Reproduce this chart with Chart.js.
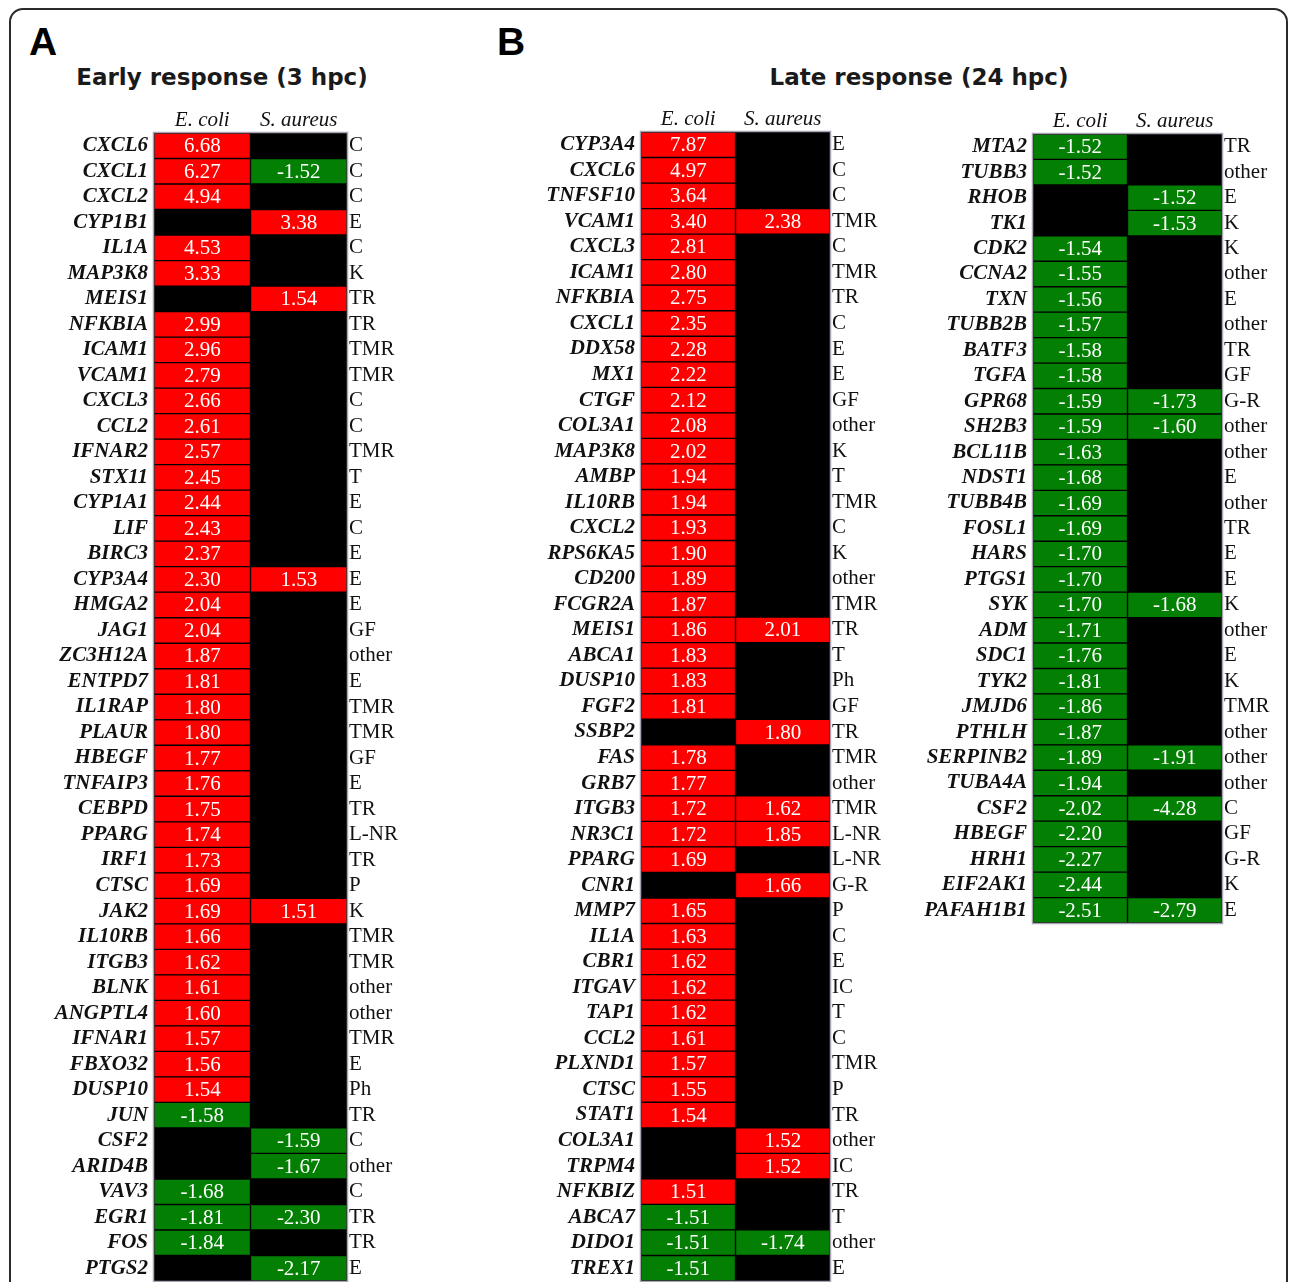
<!DOCTYPE html>
<html>
<head>
<meta charset="utf-8">
<script src="https://cdn.jsdelivr.net/npm/chart.js@4.4.1/dist/chart.umd.min.js"></script>
<style>
  html, body { margin: 0; padding: 0; background: #fff; }
  #page { position: relative; width: 1292px; height: 1282px; overflow: hidden; background: #fff; }
  #frame { position: absolute; left: 9px; top: 8px; width: 1279px; height: 1300px; border: 2px solid #2a2a2a; border-radius: 14px; box-sizing: border-box; }
  .letter { position: absolute; font-family: "Liberation Sans", Arial, sans-serif; font-weight: bold; font-size: 39px; line-height: 1; color: #000; }
  .title { position: absolute; font-family: "DejaVu Sans", Verdana, sans-serif; font-weight: bold; font-size: 23px; line-height: 1; color: #1a1a1a; white-space: nowrap; transform: translateX(-50%); }
  canvas { position: absolute; left: 0; top: 0; }
</style>
</head>
<body>
<div id="page">
  <div id="frame"></div>
  <div class="letter" style="left:29px; top:22px;">A</div>
  <div class="letter" style="left:497px; top:22px;">B</div>
  <div class="title" style="left:222px; top:66px;">Early response (3 hpc)</div>
  <div class="title" style="left:919px; top:66px;">Late response (24 hpc)</div>
  <canvas id="cA" width="1292" height="1340"></canvas>
  <canvas id="cB1" width="1292" height="1340"></canvas>
  <canvas id="cB2" width="1292" height="1340"></canvas>
</div>
<script>
// ---------- DATA ----------
const columns = ["E. coli", "S. aureus"];

// Panel A: Early response (3 hpc)
const genesA = ["CXCL6","CXCL1","CXCL2","CYP1B1","IL1A","MAP3K8","MEIS1","NFKBIA","ICAM1","VCAM1","CXCL3","CCL2","IFNAR2","STX11","CYP1A1","LIF","BIRC3","CYP3A4","HMGA2","JAG1","ZC3H12A","ENTPD7","IL1RAP","PLAUR","HBEGF","TNFAIP3","CEBPD","PPARG","IRF1","CTSC","JAK2","IL10RB","ITGB3","BLNK","ANGPTL4","IFNAR1","FBXO32","DUSP10","JUN","CSF2","ARID4B","VAV3","EGR1","FOS","PTGS2"];
const ecoliA = [6.68,6.27,4.94,null,4.53,3.33,null,2.99,2.96,2.79,2.66,2.61,2.57,2.45,2.44,2.43,2.37,2.30,2.04,2.04,1.87,1.81,1.80,1.80,1.77,1.76,1.75,1.74,1.73,1.69,1.69,1.66,1.62,1.61,1.60,1.57,1.56,1.54,-1.58,null,null,-1.68,-1.81,-1.84,null];
const saureusA = [null,-1.52,null,3.38,null,null,1.54,null,null,null,null,null,null,null,null,null,null,1.53,null,null,null,null,null,null,null,null,null,null,null,null,1.51,null,null,null,null,null,null,null,null,-1.59,-1.67,null,-2.30,null,-2.17];
const catsA = ["C","C","C","E","C","K","TR","TR","TMR","TMR","C","C","TMR","T","E","C","E","E","E","GF","other","E","TMR","TMR","GF","E","TR","L-NR","TR","P","K","TMR","TMR","other","other","TMR","E","Ph","TR","C","other","C","TR","TR","E"];

// Panel B (left list): Late response (24 hpc)
const genesB1 = ["CYP3A4","CXCL6","TNFSF10","VCAM1","CXCL3","ICAM1","NFKBIA","CXCL1","DDX58","MX1","CTGF","COL3A1","MAP3K8","AMBP","IL10RB","CXCL2","RPS6KA5","CD200","FCGR2A","MEIS1","ABCA1","DUSP10","FGF2","SSBP2","FAS","GRB7","ITGB3","NR3C1","PPARG","CNR1","MMP7","IL1A","CBR1","ITGAV","TAP1","CCL2","PLXND1","CTSC","STAT1","COL3A1","TRPM4","NFKBIZ","ABCA7","DIDO1","TREX1"];
const ecoliB1 = [7.87,4.97,3.64,3.40,2.81,2.80,2.75,2.35,2.28,2.22,2.12,2.08,2.02,1.94,1.94,1.93,1.90,1.89,1.87,1.86,1.83,1.83,1.81,null,1.78,1.77,1.72,1.72,1.69,null,1.65,1.63,1.62,1.62,1.62,1.61,1.57,1.55,1.54,null,null,1.51,-1.51,-1.51,-1.51];
const saureusB1 = [null,null,null,2.38,null,null,null,null,null,null,null,null,null,null,null,null,null,null,null,2.01,null,null,null,1.80,null,null,1.62,1.85,null,1.66,null,null,null,null,null,null,null,null,null,1.52,1.52,null,null,-1.74,null];
const catsB1 = ["E","C","C","TMR","C","TMR","TR","C","E","E","GF","other","K","T","TMR","C","K","other","TMR","TR","T","Ph","GF","TR","TMR","other","TMR","L-NR","L-NR","G-R","P","C","E","IC","T","C","TMR","P","TR","other","IC","TR","T","other","E"];

// Panel B (right list)
const genesB2 = ["MTA2","TUBB3","RHOB","TK1","CDK2","CCNA2","TXN","TUBB2B","BATF3","TGFA","GPR68","SH2B3","BCL11B","NDST1","TUBB4B","FOSL1","HARS","PTGS1","SYK","ADM","SDC1","TYK2","JMJD6","PTHLH","SERPINB2","TUBA4A","CSF2","HBEGF","HRH1","EIF2AK1","PAFAH1B1"];
const ecoliB2 = [-1.52,-1.52,null,null,-1.54,-1.55,-1.56,-1.57,-1.58,-1.58,-1.59,-1.59,-1.63,-1.68,-1.69,-1.69,-1.70,-1.70,-1.70,-1.71,-1.76,-1.81,-1.86,-1.87,-1.89,-1.94,-2.02,-2.20,-2.27,-2.44,-2.51];
const saureusB2 = [null,null,-1.52,-1.53,null,null,null,null,null,null,-1.73,-1.60,null,null,null,null,null,null,-1.68,null,null,null,null,null,-1.91,null,-4.28,null,null,null,-2.79];
const catsB2 = ["TR","other","E","K","K","other","E","other","TR","GF","G-R","other","other","E","other","TR","E","E","K","other","E","K","TMR","other","other","other","C","GF","G-R","K","E"];

// ---------- RENDERING ----------
const RED = "#ff0000", GREEN = "#037f03";
const colorFor = v => v == null ? "rgba(0,0,0,0)" : (v > 0 ? RED : GREEN);
const SERIF = "'Liberation Serif', 'Times New Roman', serif";

const tablePlugin = {
  id: "tableBg",
  beforeDatasetsDraw(chart) {
    const a = chart.chartArea, c = chart.ctx;
    c.save();
    c.fillStyle = "#000";
    c.fillRect(a.left, a.top, a.right - a.left, a.bottom - a.top);
    c.restore();
  },
  afterDatasetsDraw(chart) {
    const c = chart.ctx, a = chart.chartArea;
    c.save();
    c.font = "21px " + SERIF;
    c.fillStyle = "#fff";
    c.textAlign = "center";
    c.textBaseline = "middle";
    chart.data.datasets.forEach((ds, i) => {
      const meta = chart.getDatasetMeta(i);
      meta.data.forEach((el, j) => {
        const v = ds.values[j];
        if (v == null) return;
        const p = el.getCenterPoint();
        c.fillText(v.toFixed(2), p.x, p.y + 1);
      });
    });
    c.strokeStyle = "#a9a2b3";
    c.lineWidth = 1.5;
    c.strokeRect(a.left - 0.5, a.top - 0.5, a.right - a.left + 1, a.bottom - a.top + 1);
    c.restore();
  }
};

function makePanel(id, genes, ecoli, saureus, cats, box) {
  const W = 1292, H = 1340;
  const yW = 150, y2W = 80, xH = 40;
  const noGrid = { display: false, drawTicks: false };
  return new Chart(document.getElementById(id), {
    type: "bar",
    data: {
      labels: genes,
      datasets: [
        { label: columns[0], values: ecoli, data: ecoli.map(v => v == null ? null : [0, 1]), backgroundColor: ecoli.map(colorFor) },
        { label: columns[1], values: saureus, data: saureus.map(v => v == null ? null : [1, 2]), backgroundColor: saureus.map(colorFor) }
      ]
    },
    options: {
      indexAxis: "y",
      responsive: false,
      animation: false,
      devicePixelRatio: 1,
      layout: { padding: { left: box.left - yW, right: W - box.right - y2W, top: box.top - xH, bottom: H - box.bottom } },
      plugins: { legend: { display: false }, tooltip: { enabled: false }, title: { display: false } },
      datasets: { bar: { grouped: false, barPercentage: 1, categoryPercentage: 1, borderWidth: 1, borderColor: "#000", borderSkipped: false } },
      scales: {
        x: {
          type: "linear", position: "top", min: 0, max: 2,
          grid: noGrid, border: { display: false },
          afterBuildTicks: s => { s.ticks = [{ value: 0.5 }, { value: 1.5 }]; },
          afterFit: s => { s.height = xH; },
          ticks: {
            autoSkip: false, maxRotation: 0, padding: 0, color: "#111",
            font: { family: SERIF, size: 21, style: "italic" },
            callback: v => v < 1 ? columns[0] : columns[1]
          }
        },
        y: {
          type: "category", position: "left",
          grid: noGrid, border: { display: false },
          afterFit: s => { s.width = yW; },
          ticks: {
            autoSkip: false, padding: 6, color: "#111",
            font: { family: SERIF, size: 21, style: "italic", weight: "bold" }
          }
        },
        y2: {
          type: "category", position: "right", labels: cats, offset: true,
          grid: noGrid, border: { display: false },
          afterFit: s => { s.width = y2W; },
          ticks: {
            autoSkip: false, padding: 2, color: "#111",
            font: { family: SERIF, size: 21 }
          }
        }
      }
    },
    plugins: [tablePlugin]
  });
}

makePanel("cA", genesA, ecoliA, saureusA, catsA, { left: 154, right: 347, top: 133, bottom: 1281 });
makePanel("cB1", genesB1, ecoliB1, saureusB1, catsB1, { left: 641, right: 830, top: 132, bottom: 1281 });
makePanel("cB2", genesB2, ecoliB2, saureusB2, catsB2, { left: 1033, right: 1222, top: 134, bottom: 923 });
</script>
</body>
</html>
